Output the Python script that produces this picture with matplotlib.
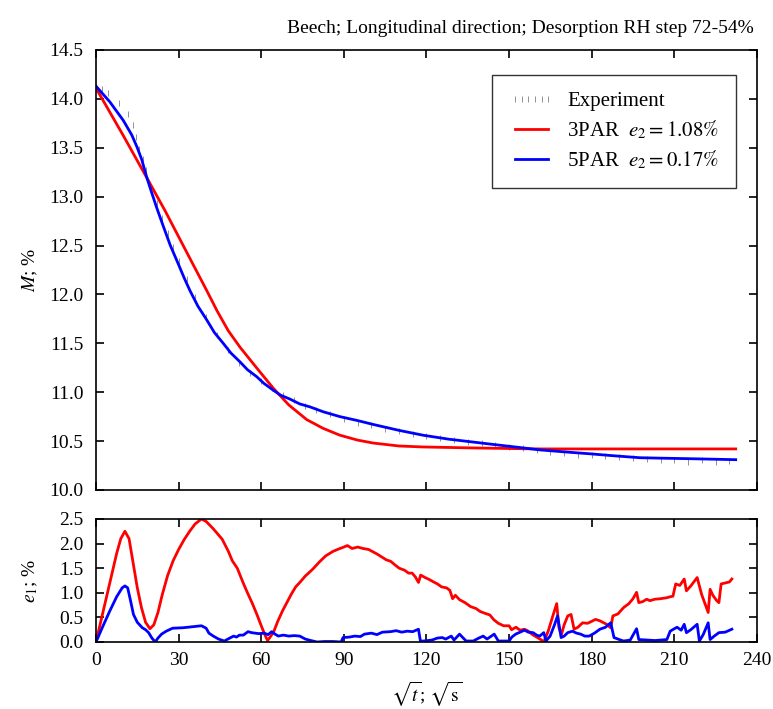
import numpy as np
import matplotlib
matplotlib.use('Agg')
import matplotlib.pyplot as plt

plt.rcParams['font.family'] = ['Liberation Serif', 'DejaVu Serif']
plt.rcParams['mathtext.fontset'] = 'stix'
plt.rcParams['font.size'] = 14

# experiment, sqrt(s) vs M %
exp_x = [2, 4.5, 8.5, 11.7, 13.3, 14.5, 15.7, 17.2, 18, 20, 22, 24, 26, 28, 30, 33, 36, 40,
         44, 48, 52, 56, 60, 64, 68, 72, 76, 80, 85, 90, 95, 100, 105, 110, 115, 120, 125,
         130, 135, 140, 145, 150, 155, 160, 165, 170, 175, 180, 185, 190, 195, 200, 205,
         210, 215, 220, 225, 230]
exp_m = [14.10, 14.06, 13.96, 13.85, 13.73, 13.61, 13.49, 13.39, 13.27, 13.10, 12.93, 12.78,
         12.63, 12.48, 12.34, 12.16, 11.97, 11.77, 11.58, 11.43, 11.30, 11.20, 11.11, 11.04,
         10.97, 10.92, 10.86, 10.82, 10.78, 10.73, 10.69, 10.66, 10.62, 10.60, 10.57, 10.55,
         10.53, 10.51, 10.49, 10.48, 10.46, 10.44, 10.43, 10.41, 10.39, 10.38, 10.36, 10.36,
         10.35, 10.34, 10.33, 10.32, 10.31, 10.31, 10.29, 10.31, 10.29, 10.30]

# 3PAR fit
p3_x = [0, 10, 19.3, 25, 30, 35, 40.2, 44, 48, 52.3, 58.3, 64.4, 70, 76.5, 82.5, 88.6, 95,
        100.7, 110, 118.8, 137, 160, 232.3]
p3_m = [14.11, 13.62, 13.15, 12.86, 12.59, 12.32, 12.04, 11.83, 11.63, 11.46, 11.25, 11.04,
        10.87, 10.72, 10.63, 10.56, 10.51, 10.48, 10.45, 10.44, 10.43, 10.42, 10.42]

# 5PAR fit
p5_x = [0, 5, 9.9, 13, 15, 16.6, 18.4, 20, 22, 24.4, 27, 29.3, 32, 34.1, 37, 40.2, 43, 46.2,
        49, 52.3, 55, 58.3, 61, 64.4, 67, 70.4, 74, 77.7, 82.5, 88.6, 95, 100.7, 110, 118.8,
        128, 137, 146, 155.2, 161.2, 170, 179.4, 188, 197.5, 206, 215.7, 224, 232.3]
p5_m = [14.13, 13.97, 13.78, 13.63, 13.50, 13.38, 13.20, 13.06, 12.89, 12.70, 12.50, 12.35,
        12.17, 12.04, 11.88, 11.74, 11.61, 11.50, 11.40, 11.31, 11.23, 11.16, 11.09, 11.02,
        10.97, 10.93, 10.88, 10.85, 10.80, 10.75, 10.71, 10.67, 10.61, 10.56, 10.52, 10.49,
        10.46, 10.43, 10.41, 10.39, 10.37, 10.35, 10.33, 10.325, 10.32, 10.315, 10.31]

# e1 residuals
e3_x = [0, 2.5, 5, 7.5, 9, 10.5, 12, 13.5, 15, 16.5, 18, 19.6, 21, 22.5, 24, 26, 28, 30, 32,
        34, 36, 38.3, 40, 42.6, 45.8, 48, 49.5, 51.3, 53.6, 55, 56.8, 58.5, 60, 61.3, 62.3,
        63.5, 64.6, 66, 67.7, 69.5, 70.9, 72.5, 74.0, 76, 78.7, 81, 83.4, 86, 88.1, 90, 91.3,
        93, 95, 97, 99, 100.7, 102, 104, 105.4, 107, 108.5, 110.1, 112, 113.5, 114.8, 116,
        117.1, 117.9, 119.5, 121, 122.6, 124, 125.5, 127.3, 128.5, 129.5, 130.5, 132, 134,
        136, 138, 139.5, 141.4, 143, 144.5, 146.1, 148, 150, 150.9, 152.5, 154, 155.6, 157,
        158.5, 160.3, 161.5, 162.6, 164.2, 166, 167.3, 168.1, 169, 170, 171.3, 172.5, 173.6,
        175, 176.7, 178.5, 180, 181.4, 183, 185.4, 186.9, 187.7, 189.5, 191.6, 193.5, 195,
        196.3, 197.1, 198.5, 200, 201.1, 203, 205, 207.3, 208.5, 209.5, 210.5, 212, 213.6,
        214.4, 216, 218.3, 219.9, 221, 222.3, 223, 224, 225.4, 226.2, 227, 228.5, 230, 230.9]
e3_v = [0, 0.6, 1.2, 1.8, 2.1, 2.25, 2.1, 1.6, 1.1, 0.7, 0.4, 0.27, 0.35, 0.6, 0.95, 1.35,
        1.65, 1.88, 2.08, 2.25, 2.4, 2.5, 2.45, 2.30, 2.09, 1.85, 1.65, 1.50, 1.18, 1.0, 0.78,
        0.55, 0.33, 0.15, 0.03, 0.12, 0.22, 0.42, 0.63, 0.82, 0.97, 1.12, 1.21, 1.34, 1.48,
        1.62, 1.75, 1.84, 1.89, 1.93, 1.96, 1.90, 1.93, 1.90, 1.88, 1.83, 1.79, 1.72, 1.67,
        1.64, 1.57, 1.50, 1.46, 1.40, 1.40, 1.32, 1.21, 1.36, 1.31, 1.27, 1.22, 1.18, 1.12,
        1.10, 1.05, 0.88, 0.95, 0.86, 0.80, 0.72, 0.68, 0.62, 0.58, 0.55, 0.45, 0.38, 0.33,
        0.33, 0.25, 0.30, 0.24, 0.26, 0.22, 0.15, 0.09, 0.05, 0.0, 0.22, 0.55, 0.78, 0.29,
        0.15, 0.35, 0.53, 0.56, 0.26, 0.30, 0.39, 0.38, 0.42, 0.46, 0.43, 0.36, 0.29, 0.53,
        0.57, 0.70, 0.78, 0.88, 1.01, 0.80, 0.82, 0.87, 0.84, 0.87, 0.88, 0.90, 0.92, 0.93,
        1.18, 1.15, 1.28, 1.04, 1.14, 1.31, 0.97, 0.80, 0.60, 1.07, 0.95, 0.84, 0.80, 1.18,
        1.20, 1.22, 1.28]

e5_x = [0, 2.5, 5, 7.5, 9.5, 10.5, 11.5, 12.5, 13.6, 15, 16.8, 18, 19.1, 20.3, 21.5, 22.5,
        23.8, 25.5, 27.8, 31.7, 35, 38.3, 40, 41, 42.6, 44.5, 46.6, 48.9, 50, 51, 52.1, 53.5,
        55.2, 56.5, 59.1, 61, 62.5, 63.8, 65, 66.2, 68, 70, 72, 74, 76, 78, 80.3, 83, 86, 89,
        89.7, 92, 94, 96, 97.5, 100, 102, 104, 106.9, 109, 111, 113, 115, 117.1, 117.8, 119,
        122, 124, 125.7, 127, 129, 130, 132, 134.4, 137, 139, 140.6, 142, 144.6, 146.1, 150.0,
        151, 152.4, 154, 155.6, 157, 158.7, 160, 161.1, 162.6, 163.4, 164.9, 166.5, 167.6,
        168.9, 170, 171.3, 173, 174.5, 176, 177.5, 179.1, 181, 183, 185, 186.9, 188.1, 190,
        191.6, 194, 196.3, 197.1, 200, 203, 207.3, 208.5, 209.7, 211, 212.5, 213.6, 214.4, 216,
        218.3, 219.1, 220.5, 222.3, 223, 224.5, 226.2, 228.5, 230.9]
e5_v = [0, 0.32, 0.63, 0.92, 1.10, 1.14, 1.10, 0.85, 0.56, 0.40, 0.29, 0.25, 0.19, 0.08, 0.0,
        0.08, 0.16, 0.22, 0.28, 0.29, 0.31, 0.33, 0.28, 0.18, 0.12, 0.06, 0.02, 0.09, 0.12,
        0.10, 0.14, 0.14, 0.21, 0.19, 0.17, 0.18, 0.15, 0.21, 0.16, 0.12, 0.14, 0.12, 0.13,
        0.12, 0.06, 0.03, 0.0, 0.01, 0.01, 0.0, 0.09, 0.10, 0.12, 0.11, 0.16, 0.18, 0.15,
        0.20, 0.21, 0.23, 0.20, 0.22, 0.21, 0.26, 0.02, 0.02, 0.04, 0.08, 0.09, 0.06, 0.12,
        0.04, 0.16, 0.02, 0.02, 0.08, 0.12, 0.06, 0.16, 0.02, 0.02, 0.10, 0.16, 0.20, 0.24,
        0.20, 0.19, 0.14, 0.12, 0.19, 0.02, 0.12, 0.35, 0.53, 0.09, 0.12, 0.19, 0.22, 0.18,
        0.16, 0.12, 0.12, 0.18, 0.26, 0.30, 0.39, 0.09, 0.05, 0.02, 0.04, 0.27, 0.05, 0.04,
        0.03, 0.05, 0.22, 0.26, 0.30, 0.24, 0.36, 0.19, 0.25, 0.36, 0.02, 0.15, 0.39, 0.05,
        0.12, 0.19, 0.20, 0.26]

fig = plt.figure(figsize=(7.73, 7.09), dpi=100)
ax1 = fig.add_axes([0.1242, 0.3089, 0.855, 0.6206])
ax2 = fig.add_axes([0.1242, 0.0945, 0.855, 0.1735])

ax1.plot(exp_x, exp_m, linestyle='none', marker='|', markersize=4, color='0.5',
         markeredgewidth=0.6, label='Experiment')
ax1.plot(p3_x, p3_m, color='#ff0000', lw=2, label=r'3PAR  $e_2 = 1.08\%$')
ax1.plot(p5_x, p5_m, color='#0000ff', lw=2, label=r'5PAR  $e_2 = 0.17\%$')
ax1.set_xlim(0, 240)
ax1.set_ylim(10, 14.5)
ax1.set_xticks(np.arange(0, 241, 30))
ax1.set_xticklabels([])
ax1.set_yticks(np.arange(10, 14.51, 0.5))
ax1.set_yticklabels(['%.1f' % v for v in np.arange(10, 14.51, 0.5)])
ax1.set_ylabel(r'$M$; %')
ax1.yaxis.set_label_coords(-0.085, 0.5)
ax1.set_title('Beech; Longitudinal direction; Desorption RH step 72-54%', loc='right',
              fontsize=14, pad=12, x=0.995)
leg = ax1.legend(loc='upper right', bbox_to_anchor=(0.968, 0.943), numpoints=6,
                 fancybox=False, edgecolor='black', fontsize=15, handlelength=2.2,
                 handletextpad=0.6, borderpad=0.8, labelspacing=0.35, borderaxespad=0)
leg.get_frame().set_linewidth(1.0)

ax2.plot(e3_x, e3_v, color='#ff0000', lw=2)
ax2.plot(e5_x, e5_v, color='#0000ff', lw=2)
ax2.set_xlim(0, 240)
ax2.set_ylim(0, 2.5)
ax2.set_xticks(np.arange(0, 241, 30))
ax2.set_yticks(np.arange(0, 2.51, 0.5))
ax2.set_yticklabels(['%.1f' % v for v in np.arange(0, 2.51, 0.5)])
ax2.set_ylabel(r'$e_1$; %')
ax2.yaxis.set_label_coords(-0.085, 0.5)
ax2.set_xlabel(r'$\sqrt{t}$; $\sqrt{\mathrm{s}}$', labelpad=8)

for ax in (ax1, ax2):
    ax.tick_params(direction='in', top=True, right=True, length=6, width=1.2, labelsize=14)
    ax.tick_params(axis='y', pad=9)
    ax.tick_params(axis='x', pad=7)
    for s in ax.spines.values():
        s.set_linewidth(1.2)

fig.savefig('out.png', dpi=100)
